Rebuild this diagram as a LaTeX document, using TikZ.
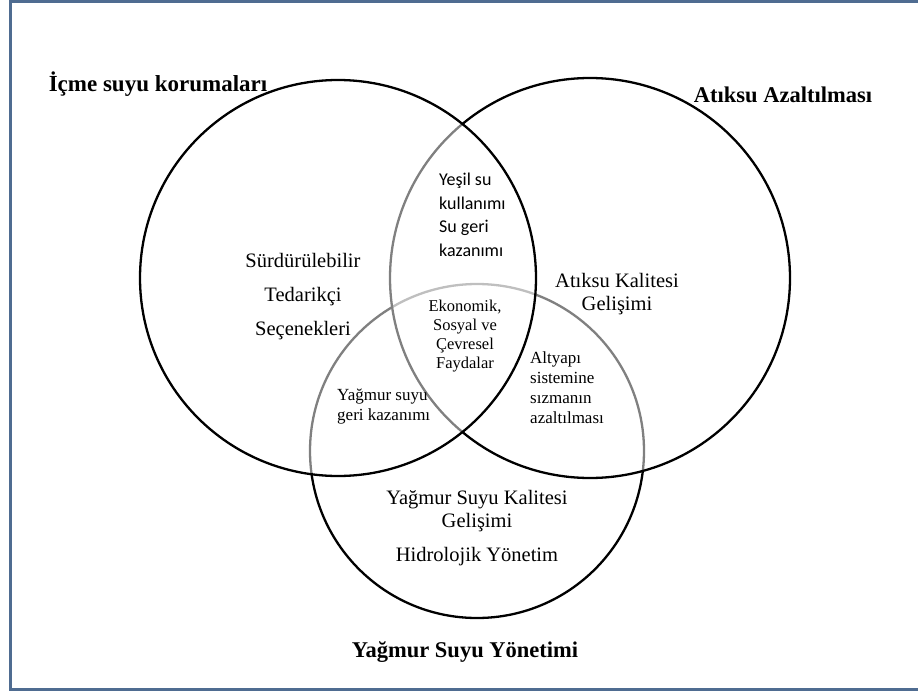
\documentclass[tikz,border=0pt]{standalone}
\usepackage{fontspec}
\setmainfont{Liberation Serif}
\newfontfamily\calib{Carlito}
\definecolor{framecol}{RGB}{79,108,145}
\begin{document}
\begin{tikzpicture}[x=1pt,y=-1pt,
  venn/.style={circle, draw=black, line width=2.3pt, fill=white, fill opacity=0.5, inner sep=0pt},
  frameline/.style={draw=framecol, line width=3pt},
  title/.style={font=\fontsize{23}{26}\selectfont\bfseries, inner sep=0pt},
  bigtxt/.style={font=\fontsize{20.5}{34}\selectfont, align=center, inner sep=0pt},
  midtxt/.style={font=\fontsize{20.5}{23}\selectfont, align=center, inner sep=0pt},
  smalltxt/.style={font=\fontsize{17}{20}\selectfont, inner sep=0pt},
  sanstxt/.style={font=\calib\fontsize{18}{23.5}\selectfont, align=left, inner sep=0pt}
]
\useasboundingbox (0,0) rectangle (918,693);
\fill[white] (0,0) rectangle (918,693);
\draw[frameline] (919,1.5) -- (10,1.5) -- (10,689) -- (919,689);

\node[venn, minimum size=334pt] (B) at (477,451) {};
\node[venn, minimum size=400pt] (R) at (590,278) {};
\node[venn, minimum size=396pt] (L) at (338,278) {};

\node[title] (tL) at (158,84) {İçme suyu korumaları};
\node[title, font=\fontsize{22.5}{26}\selectfont\bfseries] (tR) at (783,95) {Atıksu Azaltılması};
\node[title, font=\fontsize{22.5}{26}\selectfont\bfseries] (tB) at (465,652) {Yağmur Suyu Yönetimi};

\node[bigtxt] (sL) at (303,297) {Sürdürülebilir\\Tedarikçi\\Seçenekleri};
\node[midtxt] (sR) at (617,294) {Atıksu Kalitesi\\Gelişimi};
\node[midtxt] (sB) at (477,528) {Yağmur Suyu Kalitesi\\Gelişimi\\[11pt]Hidrolojik Yönetim};

\node[sanstxt, anchor=west] (iLR) at (439,215) {Yeşil su\\kullanımı\\Su geri\\kazanımı};
\node[smalltxt, align=center, font=\fontsize{16.5}{19}\selectfont] (iC) at (465,336) {Ekonomik,\\Sosyal ve\\Çevresel\\Faydalar};
\node[smalltxt, align=left, anchor=west] (iRB) at (530,388) {Altyapı\\sistemine\\sızmanın\\azaltılması};
\node[smalltxt, align=left, anchor=west] (iLB) at (337,407) {Yağmur suyu\\geri kazanımı};
\end{tikzpicture}
\end{document}
